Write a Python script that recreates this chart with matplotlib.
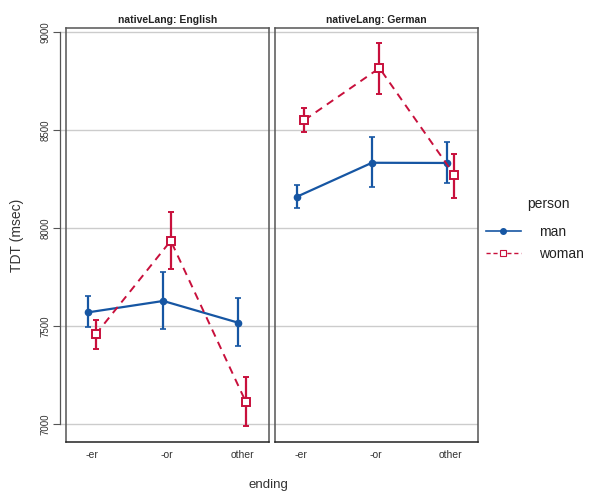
import matplotlib
matplotlib.use("Agg")
import matplotlib.pyplot as plt
from matplotlib.lines import Line2D
import numpy as np

plt.rcParams['font.family'] = ['Liberation Sans', 'DejaVu Sans']

endings = ["-er", "-or", "other"]
panels = ["English", "German"]
yticks = [7000, 7500, 8000, 8500, 9000]

# English
man_eng = [7570, 7628, 7517]
man_eng_lo = [7493, 7485, 7396]
man_eng_hi = [7651, 7774, 7643]
woman_eng = [7458, 7935, 7114]
woman_eng_lo = [7383, 7789, 6991]
woman_eng_hi = [7531, 8082, 7241]
# German
man_ger = [8160, 8333, 8332]
man_ger_lo = [8102, 8211, 8228]
man_ger_hi = [8219, 8466, 8437]
woman_ger = [8551, 8816, 8270]
woman_ger_lo = [8488, 8684, 8155]
woman_ger_hi = [8614, 8944, 8378]

data = {
    "English": {"man": (man_eng, man_eng_lo, man_eng_hi), "woman": (woman_eng, woman_eng_lo, woman_eng_hi)},
    "German": {"man": (man_ger, man_ger_lo, man_ger_hi), "woman": (woman_ger, woman_ger_lo, woman_ger_hi)},
}

W, H = 590, 494
fig = plt.figure(figsize=(W / 100, H / 100), dpi=100)

blue = "#1656a3"
red = "#c8103c"
ylim = (6910, 9019)

def rect(x0, x1, ytop, ybot):
    return [x0 / W, 1 - ybot / H, (x1 - x0) / W, (ybot - ytop) / H]

# background axis with y axis and grid
bg = fig.add_axes(rect(60, 478, 28.3, 441.7))
bg.set_ylim(*ylim)
bg.set_xlim(0, 1)
bg.set_yticks(yticks)
bg.set_yticklabels([str(v) for v in yticks], rotation=90, va="center", fontsize=7, color="#333333")
bg.tick_params(axis="y", length=5, width=0.8, color="#555555", pad=2)
bg.set_xticks([])
for s in ["top", "right", "bottom"]:
    bg.spines[s].set_visible(False)
bg.spines["left"].set_bounds(7000, 9000)
bg.spines["left"].set_color("#555555")
bg.spines["left"].set_linewidth(0.9)
for v in yticks:
    bg.axhline(v, color="#cccccc", lw=1.0, zorder=0)
bg.patch.set_alpha(0)
bg.set_ylabel("TDT (msec)", fontsize=10, color="#333333", labelpad=12)

panel_x = [(66.3, 269), (275, 477.7)]
x = np.arange(len(endings))
off = 0.05
for (x0, x1), p in zip(panel_x, panels):
    ax = fig.add_axes(rect(x0, x1, 28.3, 441.7))
    ax.patch.set_alpha(0)
    ax.set_ylim(*ylim)
    ax.set_xlim(-0.343, 2.36)
    ax.set_yticks([])
    ax.set_xticks(x)
    ax.set_xticklabels(endings, fontsize=7.5, color="#333333")
    ax.tick_params(axis="x", length=0, pad=6)
    for s in ax.spines.values():
        s.set_color("#555555")
        s.set_linewidth(1.1)
    ax.spines["bottom"].set_color("#222222")
    ax.set_title("nativeLang: " + p, fontsize=7.5, fontweight="bold", color="#222222", pad=4)
    m, mlo, mhi = data[p]["man"]
    w, wlo, whi = data[p]["woman"]
    m = np.array(m); w = np.array(w)
    ax.errorbar(x - off, m, yerr=[m - np.array(mlo), np.array(mhi) - m], color=blue, lw=1.6,
                marker="o", ms=4.5, capsize=2, elinewidth=1.6, capthick=1.2, zorder=3)
    ax.errorbar(x + off, w, yerr=[w - np.array(wlo), np.array(whi) - w], color=red, lw=1.4,
                ls=(0, (4, 3)), marker="s", ms=6, mfc="white", mec=red, mew=1.4, capsize=2,
                elinewidth=1.6, capthick=1.2, zorder=3)

fig.text(268 / W, 1 - 485 / H, "ending", ha="center", va="center", fontsize=9.5, color="#333333")

handles = [
    Line2D([], [], color=blue, lw=1.2, marker="o", ms=4),
    Line2D([], [], color=red, lw=1.0, ls=(0, (3, 2)), marker="s", ms=5, mfc="white", mec=red, mew=0.8),
]
leg = fig.legend(handles, ["man", "woman"], loc="center left",
                 bbox_to_anchor=(486 / W, 1 - 243 / H), frameon=False, fontsize=10,
                 handlelength=2.5, handletextpad=1.3, labelspacing=0.6, borderpad=0,
                 borderaxespad=0)
for t in leg.get_texts():
    t.set_color("#222222")
fig.text(548 / W, 1 - 204 / H, "person", ha="center", va="center", fontsize=10, color="#222222")

fig.savefig("out.png", dpi=100)
